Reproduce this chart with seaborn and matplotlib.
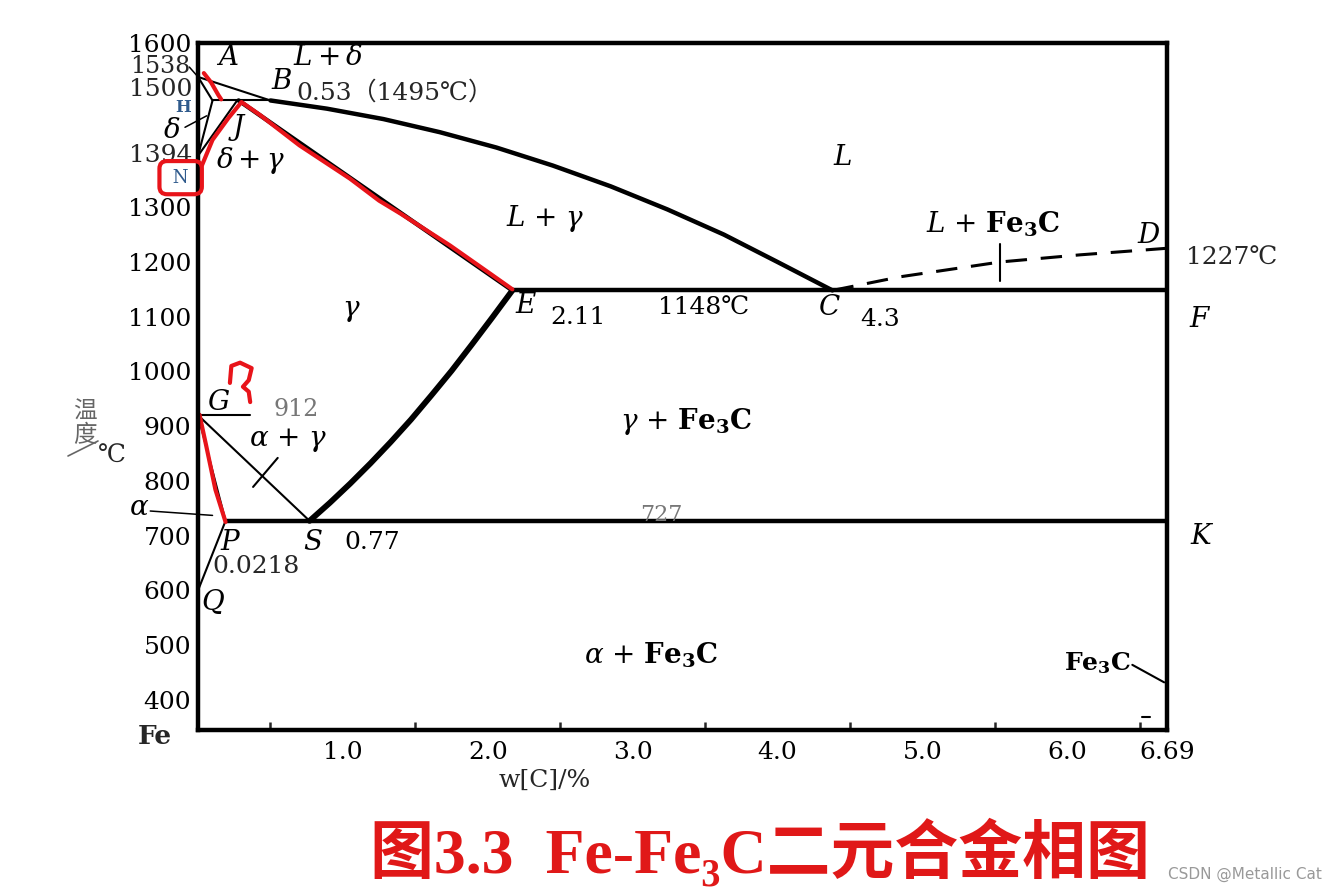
import matplotlib
matplotlib.use("Agg")
import matplotlib.pyplot as plt
import seaborn as sns

# Fe-Fe3C diagram, values (wt% C, deg C)
# curved boundaries
bc_x = [0.50, 0.89, 1.28, 1.67, 2.06, 2.45, 2.85, 3.24, 3.63, 4.00, 4.38]
bc_t = [1495, 1480, 1461, 1437, 1409, 1376, 1338, 1296, 1250, 1200, 1148]
es_x = [2.17, 2.03, 1.89, 1.75, 1.61, 1.47, 1.33, 1.19, 1.05, 0.91, 0.77]
es_t = [1148, 1098, 1049, 1001, 956, 912, 871, 832, 795, 760, 727]
cd_x = [4.38, 4.85, 5.54, 6.09, 6.69]
cd_t = [1148, 1173, 1200, 1213, 1225]

# straight boundaries (x pair, t pair)
thick_lines = {
    "JE": ([0.28, 2.17], [1495, 1148]),
    "ECF": ([2.17, 6.69], [1148, 1148]),
    "PSK": ([0.19, 6.69], [727, 727]),
}
thin_lines = {
    "AB": ([0.0, 0.50], [1538, 1495]),
    "AH": ([0.0, 0.10], [1538, 1495]),
    "HJB": ([0.10, 0.50], [1495, 1495]),
    "NH": ([0.0, 0.10], [1394, 1495]),
    "NJ": ([0.0, 0.27], [1394, 1495]),
    "GS": ([0.0, 0.77], [920, 727]),
    "GP": ([0.0, 0.19], [920, 727]),
    "PQ": ([0.19, 0.0], [727, 600]),
    "G912": ([0.0, 0.36], [920, 920]),
    "tie": ([0.38, 0.55], [789, 842]),
    "cross": ([5.54, 5.54], [1232, 1166]),
    "fe3c_lead": ([6.45, 6.67], [464, 432]),
    "dash": ([6.52, 6.57], [368, 368]),
}
leaders = {
    "1538": ([-0.06, 0.0], [1556, 1538]),
    "delta": ([-0.09, 0.06], [1446, 1467]),
    "alpha": ([-0.33, 0.10], [745, 737]),
}

# red hand-drawn marks on the scan
red_ah_x = [0.04, 0.09, 0.14, 0.16]
red_ah_t = [1545, 1528, 1505, 1497]
red_nje_x = [0.02, 0.10, 0.21, 0.30, 0.43, 0.70, 1.05, 1.25, 1.40, 1.74, 2.02, 2.17]
red_nje_t = [1372, 1423, 1463, 1492, 1468, 1413, 1352, 1312, 1288, 1230, 1178, 1150]
red_gp_x = [0.01, 0.055, 0.12, 0.19]
red_gp_t = [921, 866, 784, 725]
red_sq_x = [0.22, 0.23, 0.29, 0.37, 0.35, 0.31, 0.35, 0.36]
red_sq_t = [979, 1010, 1016, 1006, 984, 972, 963, 944]

# labels
y_ticks = [400, 500, 600, 700, 800, 900, 1000, 1100, 1200, 1300, 1500, 1600]
y_tick_labels = ["400", "500", "600", "700", "800", "900", "1000", "1100",
                 "1200", "1300", "", "1600"]
x_ticks = [1, 2, 3, 4, 5, 6, 6.69]
x_tick_labels = ["1.0", "2.0", "3.0", "4.0", "5.0", "6.0", "6.69"]
point_labels = [("A", 0.21, 1573), ("B", 0.58, 1529), ("J", 0.28, 1445),
                ("L", 4.45, 1390), ("D", 6.56, 1249), ("E", 2.26, 1121),
                ("C", 4.36, 1116), ("F", 6.91, 1094), ("G", 0.14, 944),
                ("P", 0.22, 688), ("S", 0.79, 688), ("K", 6.92, 698),
                ("Q", 0.10, 577)]
phase_labels = [(r"$L+\delta$", 0.90, 1573), (r"$\delta+\gamma$", 0.36, 1386),
                (r"$L$ + $\gamma$", 2.40, 1280),
                (r"$L$ + $\mathbf{Fe_3C}$", 5.49, 1268), (r"$\gamma$", 1.06, 1112),
                (r"$\alpha$ + $\gamma$", 0.62, 875),
                (r"$\gamma$ + $\mathbf{Fe_3C}$", 3.37, 908),
                (r"$\alpha$ + $\mathbf{Fe_3C}$", 3.13, 482),
                (r"$\delta$", -0.18, 1440), (r"$\alpha$", -0.41, 752)]
value_labels = [("2.11", 2.62, 1098), ("1148℃", 3.49, 1116), ("4.3", 4.71, 1094),
                ("0.77", 1.20, 688), (r"$\mathbf{Fe_3C}$", 6.21, 468)]

sns.set_theme(style="white")
plt.rcParams["font.family"] = ["DejaVu Serif", "Noto Sans CJK SC"]
plt.rcParams["mathtext.fontset"] = "dejavuserif"

fig = plt.figure(figsize=(13.3, 8.9), dpi=100)
ax = fig.add_axes([0.1489, 0.1798, 0.7286, 0.7719])


def draw(xs, ts, lw, color="black", **kw):
    sns.lineplot(x=xs, y=ts, sort=False, estimator=None, color=color,
                 linewidth=lw, ax=ax, solid_capstyle="round",
                 solid_joinstyle="round", **kw)


draw(bc_x, bc_t, 3.2)
draw(es_x, es_t, 4.2)
draw(cd_x, cd_t, 2.2, linestyle=(0, (7, 4.5)))
for xs, ts in thick_lines.values():
    draw(xs, ts, 3.2)
for xs, ts in thin_lines.values():
    draw(xs, ts, 1.5)
for xs, ts in leaders.values():
    draw(xs, ts, 1.1, clip_on=False)

for xs, ts in [(red_ah_x, red_ah_t), (red_nje_x, red_nje_t),
               (red_gp_x, red_gp_t), (red_sq_x, red_sq_t)]:
    draw(xs, ts, 3.0, color="#e8141a", clip_on=False)

ax.set_xlim(0, 6.69)
ax.set_ylim(345, 1600)
ax.set_xlabel("")
ax.set_ylabel("")
for sp in ax.spines.values():
    sp.set_linewidth(3.2)
    sp.set_color("black")

ax.set_yticks(y_ticks)
ax.set_yticklabels(y_tick_labels)
ax.set_xticks(x_ticks)
ax.set_xticklabels(x_tick_labels)
ax.set_xticks([0.5, 1.5, 2.5, 3.5, 4.5, 5.5, 6.5], minor=True)
ax.tick_params(axis="y", direction="in", length=12, width=2, pad=5,
               labelsize=18, colors="black")
ax.tick_params(axis="x", which="major", direction="in", length=8, width=2,
               pad=8, labelsize=18, colors="black")
ax.tick_params(axis="x", which="minor", direction="in", length=6, width=1.8,
               bottom=True)

txt = dict(color="black", ha="center", va="center", clip_on=False)
for s, x, t in point_labels:
    ax.text(x, t, s, fontsize=20, style="italic", **txt)
for s, x, t in phase_labels:
    ax.text(x, t, s, fontsize=20, **txt)
for s, x, t in value_labels:
    ax.text(x, t, s, fontsize=18, **txt)

ax.text(0.68, 1510, "0.53（1495℃）", fontsize=18, ha="left", va="center")
ax.text(6.82, 1207, "1227℃", fontsize=18, ha="left", va="center", clip_on=False)
ax.text(0.10, 643, "0.0218", fontsize=18, ha="left", va="center")
ax.text(0.52, 930, "912", fontsize=17, ha="left", va="center", color="#777777")
ax.text(3.20, 738, "727", fontsize=16, ha="center", va="center", color="#777777")
ax.text(-0.05, 1557, "1538", fontsize=17, ha="right", va="center", clip_on=False)
ax.text(-0.04, 1515, "1500", fontsize=18, ha="right", va="center", clip_on=False)
ax.text(-0.04, 1394, "1394", fontsize=18, ha="right", va="center", clip_on=False)
ax.text(-0.10, 1482, "H", fontsize=12, ha="center", va="center", color="#2f5a8c",
        fontweight="bold", clip_on=False)
ax.text(-0.12, 1354, " N ", fontsize=13, ha="center", va="center", color="#2f5a8c",
        clip_on=False,
        bbox=dict(boxstyle="round,pad=0.42", fc="none", ec="#e8141a", lw=3))

# y axis title, bottom left "Fe", x axis title
fig.text(85 / 1330, 1 - 424 / 890, "温\n度", fontsize=17, color="#666666",
         ha="center", va="center", family="Noto Sans CJK SC", linespacing=1.0)
fig.add_artist(plt.Line2D([68 / 1330, 98 / 1330], [1 - 456 / 890, 1 - 441 / 890],
                          color="#666666", lw=1.2))
fig.text(112 / 1330, 1 - 456 / 890, "℃", fontsize=18, ha="center", va="center")
fig.text(155 / 1330, 1 - 737 / 890, "Fe", fontsize=19, fontweight="bold",
         ha="center", va="center")
fig.text(545 / 1330, 1 - 780 / 890, "w[C]/%", fontsize=18, ha="center", va="center")

fig.text(760 / 1330, 1 - 852 / 890, "图3.3  Fe-Fe₃C二元合金相图", fontsize=46,
         color="#e01818", fontweight="bold", ha="center", va="center",
         family=["Liberation Serif", "Noto Sans CJK SC", "DejaVu Serif"])
fig.text(1245 / 1330, 1 - 874 / 890, "CSDN @Metallic Cat", fontsize=11,
         color="#999999", ha="center", va="center", family="DejaVu Sans")

fig.savefig("out.png", dpi=100, facecolor="white")
